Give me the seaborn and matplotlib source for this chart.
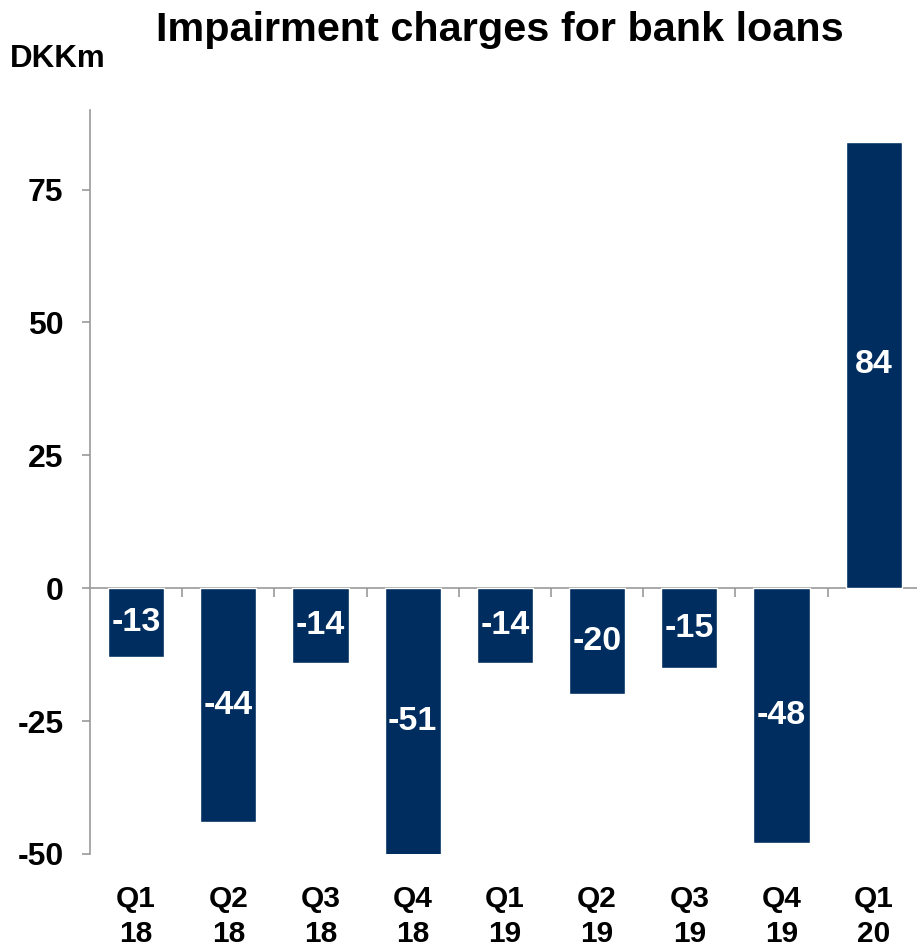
import matplotlib
matplotlib.use("Agg")
import matplotlib.pyplot as plt
import seaborn as sns
import numpy as np
import pandas as pd

quarters = ["Q1\n18", "Q2\n18", "Q3\n18", "Q4\n18", "Q1\n19", "Q2\n19", "Q3\n19", "Q4\n19", "Q1\n20"]
values = [-13, -44, -14, -51, -14, -20, -15, -48, 84]
yticks = [-50, -25, 0, 25, 50, 75]

sns.set_theme(style="white")
plt.rcParams['font.family'] = ['Liberation Sans', 'DejaVu Sans']
plt.rcParams['text.color'] = 'black'

bar_color = "#002D5F"
axis_gray = "#999999"

df = pd.DataFrame({"quarter": quarters, "value": values})

fig = plt.figure(figsize=(9.17, 9.48), dpi=100)
ax = fig.add_axes([0.0981, 0.0992, 0.905, 0.785])

sns.barplot(data=df, x="quarter", y="value", color=bar_color, saturation=1,
            width=0.61, ax=ax)

ax.set_xlim(-0.5, 8.5)
ax.set_ylim(-50, 90)
ax.set_yticks(yticks)
ax.set_yticklabels([str(v) for v in yticks], fontsize=23, fontweight="bold")
ax.set_xlabel("")
ax.set_ylabel("")

for s in ["top", "right", "bottom"]:
    ax.spines[s].set_visible(False)
ax.spines["left"].set_color(axis_gray)
ax.spines["left"].set_linewidth(1.2)
ax.tick_params(axis="y", direction="out", length=6, width=1.2, color=axis_gray,
               left=True, pad=13, labelcolor="black")
ax.tick_params(axis="x", length=0, pad=22, labelsize=21.5, labelcolor="black")
for lbl in ax.get_xticklabels():
    lbl.set_fontweight("bold")
    lbl.set_linespacing(1.32)

# zero line with boundary ticks
zero_loc = (0 - (-50)) / (90 - (-50))
sec = ax.secondary_xaxis(zero_loc)
sec.set_xticks(np.arange(0.5, 8, 1.0))
sec.tick_params(axis="x", direction="out", length=6.5, width=1.2, color=axis_gray,
                labelbottom=False)
sec.spines["bottom"].set_color(axis_gray)
sec.spines["bottom"].set_linewidth(1.2)

# value labels
for cont in ax.containers:
    ax.bar_label(cont, labels=[str(v) for v in values], label_type="center",
                 color="white", fontsize=24.5, fontweight="bold")

fig.text(0.545, 0.968, "Impairment charges for bank loans", ha="center", va="center",
         fontsize=29.8, fontweight="bold", color="black")
fig.text(0.011, 0.938, "DKKm", ha="left", va="center", fontsize=22.5, fontweight="bold",
         color="black")

fig.savefig("out.png", dpi=100)
